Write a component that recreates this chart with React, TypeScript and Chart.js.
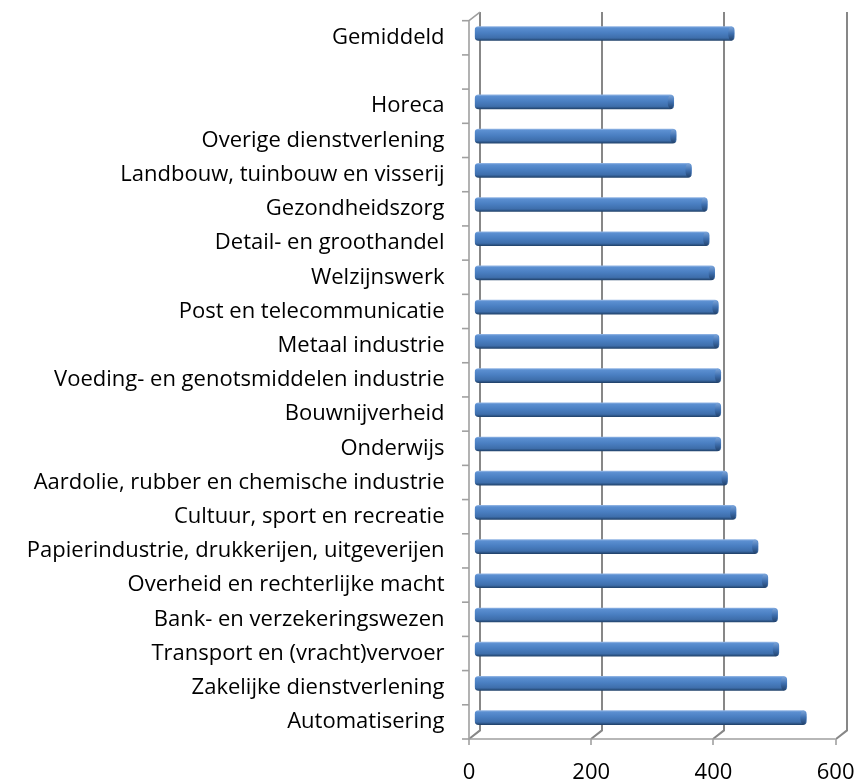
import React, { useEffect, useRef } from "react";
import { Chart, registerables } from "chart.js";

Chart.register(...registerables);

const categories = [
  "Gemiddeld",
  "",
  "Horeca",
  "Overige dienstverlening",
  "Landbouw, tuinbouw en visserij",
  "Gezondheidszorg",
  "Detail- en groothandel",
  "Welzijnswerk",
  "Post en telecommunicatie",
  "Metaal industrie",
  "Voeding- en genotsmiddelen industrie",
  "Bouwnijverheid",
  "Onderwijs",
  "Aardolie, rubber en chemische industrie",
  "Cultuur, sport en recreatie",
  "Papierindustrie, drukkerijen, uitgeverijen",
  "Overheid en rechterlijke macht",
  "Bank- en verzekeringswezen",
  "Transport en (vracht)vervoer",
  "Zakelijke dienstverlening",
  "Automatisering",
];

const values: (number | null)[] = [
  425, null, 326, 330, 355, 381, 384, 393, 399, 400, 403, 403, 403, 414, 428, 464, 480, 496, 498, 511, 543,
];

const xTicks = [0, 200, 400, 600];

const DX = 5.5; // half depth, x
const DY = 4.3; // half depth, y
const Y_FONT = { family: "Open Sans", size: 22 };
const X_FONT = { family: "Open Sans", size: 22 };

const wallPlugin = {
  id: "wall3d",
  beforeDatasetsDraw(chart: any) {
    const { ctx, chartArea } = chart;
    const xs = chart.scales.x;
    const top = chartArea.top;
    const bottom = chartArea.bottom;
    ctx.save();
    ctx.strokeStyle = "#878787";
    ctx.lineWidth = 2;
    xTicks.forEach((v) => {
      const px = Math.round(xs.getPixelForValue(v) + DX);
      ctx.beginPath();
      ctx.moveTo(px, top - DY);
      ctx.lineTo(px, bottom - DY);
      ctx.lineTo(px - 2 * DX, bottom + DY);
      ctx.stroke();
    });
    ctx.strokeStyle = "#a0a0a0";
    ctx.lineWidth = 1.6;
    const x0 = Math.round(xs.getPixelForValue(0) - DX);
    const x6 = xs.getPixelForValue(600) - DX;
    ctx.beginPath();
    ctx.moveTo(x0 + 2 * DX, top - DY);
    ctx.lineTo(x0, top + DY);
    ctx.lineTo(x0, bottom + DY);
    ctx.lineTo(x6, bottom + DY);
    ctx.stroke();
    xTicks.forEach((v) => {
      const px = Math.round(xs.getPixelForValue(v) - DX);
      ctx.beginPath();
      ctx.moveTo(px, bottom + DY);
      ctx.lineTo(px, bottom + DY + 6);
      ctx.stroke();
    });
    const n = categories.length;
    const step = (bottom - top) / n;
    for (let i = 0; i <= n; i++) {
      const y = top + DY + i * step;
      ctx.beginPath();
      ctx.moveTo(x0, y);
      ctx.lineTo(x0 - 7, y);
      ctx.stroke();
    }
    ctx.restore();
  },
  afterDatasetsDraw(chart: any) {
    const { ctx } = chart;
    const meta = chart.getDatasetMeta(0);
    ctx.save();
    meta.data.forEach((bar: any, i: number) => {
      if (values[i] == null) return;
      const h = bar.height;
      if (!Number.isFinite(bar.y) || !Number.isFinite(h)) return;
      const g = ctx.createLinearGradient(0, bar.y - h / 2, 0, bar.y + h / 2);
      g.addColorStop(0, "#7ea6da");
      g.addColorStop(0.5, "#3f70b0");
      g.addColorStop(1, "#22426c");
      ctx.fillStyle = g;
      ctx.beginPath();
      ctx.ellipse(bar.x - 3, bar.y, 3, h / 2, 0, 0, Math.PI * 2);
      ctx.fill();
    });
    ctx.restore();
  },
};

export default function App() {
  const ref = useRef<HTMLCanvasElement | null>(null);
  useEffect(() => {
    if (!ref.current) return;
    const chart = new Chart(ref.current, {
      type: "bar",
      data: {
        labels: categories,
        datasets: [
          {
            data: values,
            barThickness: 14,
            borderRadius: 4,
            borderSkipped: false,
            backgroundColor: (c: any) => {
              const ch = c.chart;
              const ys = ch.scales && ch.scales.y;
              if (!ys || c.dataIndex == null) return "#4a7ebf";
              const y = ys.getPixelForValue(c.dataIndex);
              if (!Number.isFinite(y)) return "#4a7ebf";
              const g = ch.ctx.createLinearGradient(0, y - 7, 0, y + 7);
              g.addColorStop(0, "#8fb3e3");
              g.addColorStop(0.1, "#5b8fd1");
              g.addColorStop(0.45, "#4a7fc2");
              g.addColorStop(0.82, "#3e6eab");
              g.addColorStop(1, "#22446d");
              return g;
            },
          },
        ],
      },
      options: {
        indexAxis: "y",
        animation: false,
        responsive: false,
        maintainAspectRatio: false,
        layout: { padding: { top: 16.4, right: 18, left: 0, bottom: 0 } },
        plugins: { legend: { display: false }, tooltip: { enabled: false } },
        scales: {
          x: {
            min: 0,
            max: 600,
            grid: {
              display: true,
              drawOnChartArea: false,
              drawTicks: true,
              tickLength: 25,
              color: "rgba(0,0,0,0)",
            },
            border: { display: false },
            ticks: {
              stepSize: 200,
              labelOffset: -DX,
              padding: 0,
              font: X_FONT,
              color: "#000",
            },
            afterFit: (s: any) => {
              s.height = 48.3;
            },
          },
          y: {
            grid: {
              display: true,
              drawOnChartArea: false,
              drawTicks: true,
              tickLength: 30,
              color: "rgba(0,0,0,0)",
            },
            border: { display: false },
            ticks: {
              autoSkip: false,
              labelOffset: DY,
              padding: 0,
              font: Y_FONT,
              color: "#000",
            },
            afterFit: (s: any) => {
              s.width = 474.5;
            },
          },
        },
      },
      plugins: [wallPlugin],
    });
    return () => chart.destroy();
  }, []);
  return (
    <div style={{ position: "absolute", left: 0, top: 0, width: 860, height: 783, background: "#fff" }}>
      <canvas ref={ref} width={860} height={783} style={{ width: 860, height: 783 }} />
    </div>
  );
}
